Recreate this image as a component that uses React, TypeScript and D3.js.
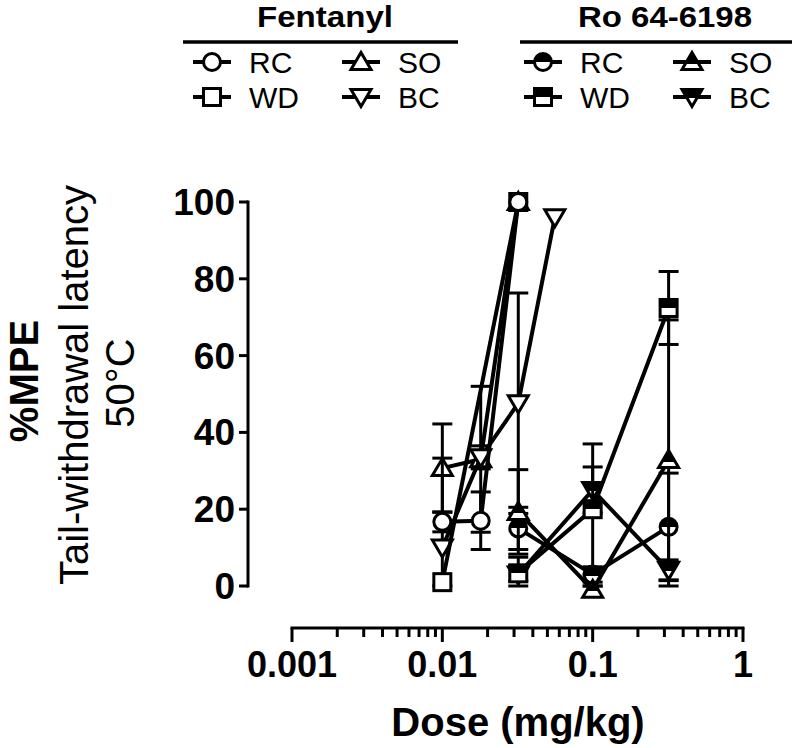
import React from "react";
import * as d3 from "d3";

// doses (mg/kg)
const fentDoses = [0.01, 0.018, 0.032, 0.056];
const roDoses = [0.032, 0.1, 0.32];

const shapes: Record<string, string> = { RC: "circle", WD: "square", SO: "up", BC: "down" };

// Fentanyl %MPE and SEM (null = not tested)
const fentRC = [16.7, 17, 100, null];
const fentRCErr = [2.6, 7.5, 0, null];
const fentWD = [1, null, 100, null];
const fentWDErr = [0, null, 0, null];
const fentSO = [30.7, 33, 100, null];
const fentSOErr = [11.5, 19, 0, null];
const fentBC = [10, 33.5, 47.6, 96];
const fentBCErr = [23.3, 3, 28.7, 0];

// Ro 64-6198 %MPE and SEM
const roRC = [15, 3, 15.4];
const roRCErr = [5.5, 2, 14];
const roWD = [3.3, 20, 72.4];
const roWDErr = [2, 17, 9.5];
const roSO = [19.3, -1, 32.8];
const roSOErr = [11, 1, 36.5];
const roBC = [3, 25, 4.2];
const roBCErr = [4.5, 6, 2.6];

const xTickLabels = ["0.001", "0.01", "0.1", "1"];
const yTicks = [0, 20, 40, 60, 80, 100];

const FONT = "'Liberation Sans', Arial, Helvetica, sans-serif";

type Series = { name: string; doses: number[]; vals: (number | null)[]; errs: (number | null)[]; fill: string };

const fentSeries: Series[] = [
  { name: "SO", doses: fentDoses, vals: fentSO, errs: fentSOErr, fill: "white" },
  { name: "BC", doses: fentDoses, vals: fentBC, errs: fentBCErr, fill: "white" },
  { name: "WD", doses: fentDoses, vals: fentWD, errs: fentWDErr, fill: "white" },
  { name: "RC", doses: fentDoses, vals: fentRC, errs: fentRCErr, fill: "white" },
];
const roSeries: Series[] = [
  { name: "RC", doses: roDoses, vals: roRC, errs: roRCErr, fill: "half" },
  { name: "SO", doses: roDoses, vals: roSO, errs: roSOErr, fill: "half" },
  { name: "BC", doses: roDoses, vals: roBC, errs: roBCErr, fill: "half" },
  { name: "WD", doses: roDoses, vals: roWD, errs: roWDErr, fill: "half" },
];

function Marker({ kind, cx, cy, fill }: { kind: string; cx: number; cy: number; fill: string }) {
  // half-filled symbols: triangles get a bit more black so the apex reads as solid
  const f = fill === "half" ? (kind === "up" ? "url(#halfUp)" : "url(#half)") : fill;
  const common = { fill: f, stroke: "black", strokeWidth: 3 };
  if (kind === "circle") return <circle cx={cx} cy={cy} r={8.5} {...common} />;
  if (kind === "square") return <rect x={cx - 8.5} y={cy - 8.5} width={17} height={17} {...common} />;
  if (kind === "up")
    return <polygon points={`${cx},${cy - 9.5} ${cx + 10},${cy + 7.5} ${cx - 10},${cy + 7.5}`} {...common} />;
  return <polygon points={`${cx},${cy + 9.5} ${cx + 10},${cy - 7.5} ${cx - 10},${cy - 7.5}`} {...common} />;
}

export default function App() {
  const x = d3.scaleLog().domain([0.001, 1]).range([292, 743]);
  const y = d3.scaleLinear().domain([0, 100]).range([586, 202]);
  const lineGen = d3
    .line<[number, number]>()
    .x((d) => x(d[0]))
    .y((d) => y(d[1]));

  const allTicks = x.ticks();
  const isMajor = (t: number) => Math.abs(Math.log10(t) - Math.round(Math.log10(t))) < 1e-6;

  const drawSeries = (s: Series, key: string) => {
    const pts = s.doses
      .map((d, i) => [d, s.vals[i], s.errs[i]] as [number, number | null, number | null])
      .filter((p) => p[1] !== null) as [number, number, number][];
    return (
      <g key={key}>
        {pts.map(([d, v, e], i) => {
          if (!e) return null;
          const cx = x(d);
          const hi = y(Math.min(v + e, 100));
          const lo = y(Math.max(v - e, 0));
          return (
            <g key={i} stroke="black" strokeWidth={3}>
              <line x1={cx} x2={cx} y1={hi} y2={lo} />
              <line x1={cx - 10} x2={cx + 10} y1={hi} y2={hi} />
              <line x1={cx - 10} x2={cx + 10} y1={lo} y2={lo} />
            </g>
          );
        })}
        <path d={lineGen(pts.map((p) => [p[0], p[1]]))!} fill="none" stroke="black" strokeWidth={4} />
        {pts.map(([d, v], i) => (
          <Marker key={"m" + i} kind={shapes[s.name]} cx={x(d)} cy={y(v)} fill={s.fill} />
        ))}
      </g>
    );
  };

  const legend = (title: string, cx: number, x0: number, x1: number, col1: number, col2: number, fill: string, titleLen: number) => {
    const items = [
      { n: "RC", sx: col1, cy: 62 },
      { n: "SO", sx: col2, cy: 62 },
      { n: "WD", sx: col1, cy: 97 },
      { n: "BC", sx: col2, cy: 97 },
    ];
    return (
      <g>
        <text x={cx} y={27} textAnchor="middle" fontWeight="bold" fontSize={30} textLength={titleLen} lengthAdjust="spacingAndGlyphs">
          {title}
        </text>
        <line x1={x0} x2={x1} y1={42} y2={42} stroke="black" strokeWidth={3.5} />
        {items.map((it) => (
          <g key={it.n}>
            <line x1={it.sx - 19} x2={it.sx + 19} y1={it.cy} y2={it.cy} stroke="black" strokeWidth={4} />
            <Marker kind={shapes[it.n]} cx={it.sx} cy={it.cy} fill={fill} />
            <text x={it.sx + 37} y={it.cy + 11} fontSize={30}>
              {it.n}
            </text>
          </g>
        ))}
      </g>
    );
  };

  return (
    <svg width={797} height={748} style={{ position: "absolute", left: 0, top: 0, background: "white" }} fontFamily={FONT}>
      <defs>
        <linearGradient id="half" x1="0" y1="0" x2="0" y2="1">
          <stop offset="0" stopColor="black" />
          <stop offset="0.5" stopColor="black" />
          <stop offset="0.5" stopColor="white" />
          <stop offset="1" stopColor="white" />
        </linearGradient>
        <linearGradient id="halfUp" x1="0" y1="0" x2="0" y2="1">
          <stop offset="0" stopColor="black" />
          <stop offset="0.65" stopColor="black" />
          <stop offset="0.65" stopColor="white" />
          <stop offset="1" stopColor="white" />
        </linearGradient>
      </defs>
      <rect width={797} height={748} fill="white" />

      {legend("Fentanyl", 325, 183, 458, 212, 361, "white", 136)}
      {legend("Ro 64-6198", 665, 520, 792, 543, 692, "half", 174)}

      {/* y axis */}
      <g stroke="black" strokeWidth={3}>
        <line x1={248} x2={248} y1={y(100) - 1.5} y2={y(0) + 1.5} />
        {yTicks.map((t) => (
          <line key={t} x1={239} x2={248} y1={y(t)} y2={y(t)} />
        ))}
      </g>
      {yTicks.map((t) => (
        <text key={t} x={235} y={y(t) + 13} textAnchor="end" fontWeight="bold" fontSize={37}>
          {t}
        </text>
      ))}

      {/* x axis */}
      <g stroke="black" strokeWidth={3}>
        <line x1={x(0.001) - 1.5} x2={x(1) + 1.5} y1={628} y2={628} />
        {allTicks.map((t, i) => (
          <line key={i} x1={x(t)} x2={x(t)} y1={628} y2={isMajor(t) ? 642 : 637} />
        ))}
      </g>
      {xTickLabels.map((t) => (
        <text key={t} x={x(+t)} y={677} textAnchor="middle" fontWeight="bold" fontSize={36}>
          {t}
        </text>
      ))}
      <text x={518} y={736} textAnchor="middle" fontWeight="bold" fontSize={40}>
        Dose (mg/kg)
      </text>

      {/* y title */}
      <text transform="translate(38,381) rotate(-90)" textAnchor="middle" fontWeight="bold" fontSize={40}>
        %MPE
      </text>
      <text transform="translate(88,385) rotate(-90)" textAnchor="middle" fontSize={40}>
        Tail-withdrawal latency
      </text>
      <text transform="translate(134,383) rotate(-90)" textAnchor="middle" fontSize={40}>
        50°C
      </text>

      {fentSeries.map((s, i) => drawSeries(s, "f" + i))}
      {roSeries.map((s, i) => drawSeries(s, "r" + i))}
    </svg>
  );
}
